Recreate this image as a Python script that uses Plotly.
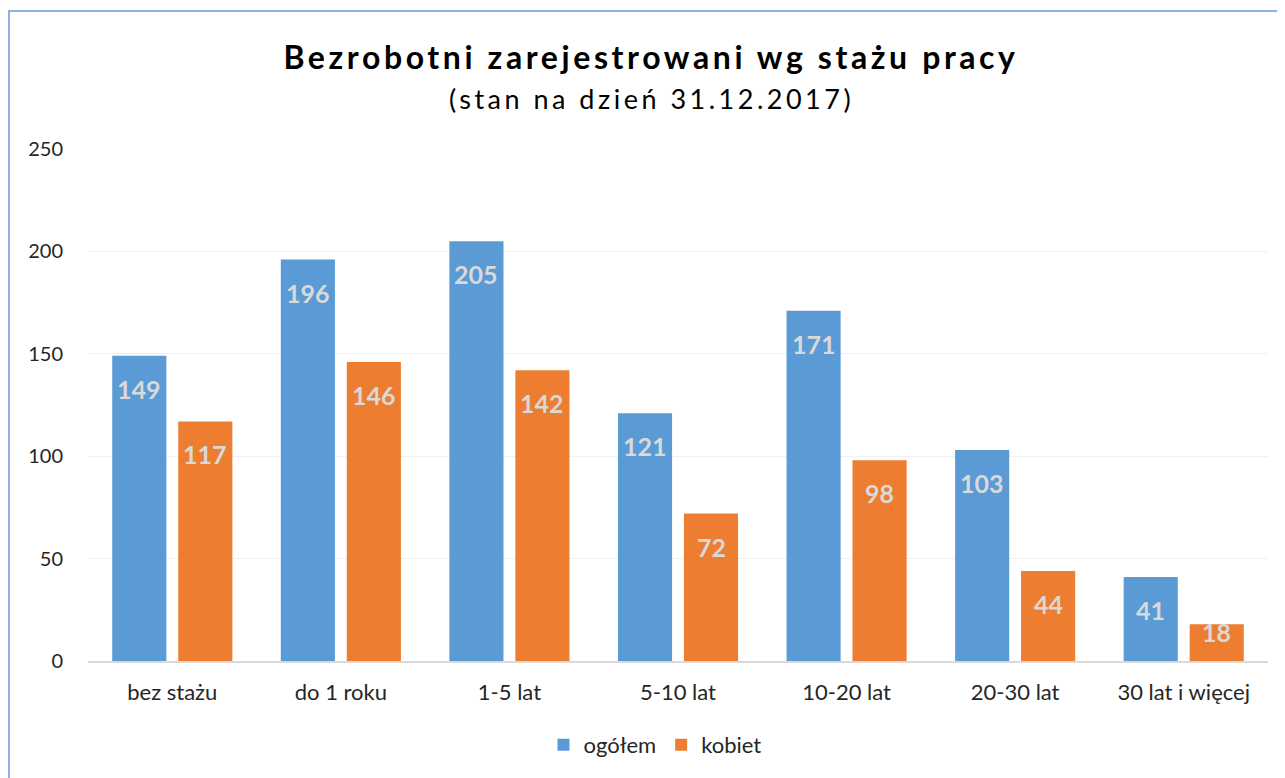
import plotly.graph_objects as go

categories = ["bez stażu", "do 1 roku", "1-5 lat", "5-10 lat", "10-20 lat", "20-30 lat", "30 lat i więcej"]
ogolem = [149, 196, 205, 121, 171, 103, 41]
kobiet = [117, 146, 142, 72, 98, 44, 18]
y_ticks = [0, 50, 100, 150, 200, 250]

FONT = "Lato"
BLUE = "#5b9bd5"
ORANGE = "#ed7d31"
PX_PER_UNIT = 512 / 250
OFF = 8  # page body margin
W, H = 1285 - OFF, 778 - OFF
L, T, PW, PH = 88 - OFF, 149 - OFF, 1180, 512

fig = go.Figure()
fig.add_trace(go.Bar(x=categories, y=ogolem, name="ogółem", marker=dict(color=BLUE, line=dict(width=0))))
fig.add_trace(go.Bar(x=categories, y=kobiet, name="kobiet", marker=dict(color=ORANGE, line=dict(width=0))))

annotations = []
for series, shift in ((ogolem, -33), (kobiet, 33)):
    for c, v in zip(categories, series):
        dy = min(33, v * PX_PER_UNIT - 29)
        annotations.append(dict(x=c, y=v, xref="x", yref="y", text=f"<b>{v}</b>", showarrow=False,
                                xshift=shift, yshift=-dy, yanchor="middle",
                                font=dict(family=FONT, size=25, color="#d9d9d9")))

annotations.append(dict(text='<span style="letter-spacing:3.5px">(stan na dzień 31.12.2017)</span>',
                        xref="paper", yref="paper",
                        x=(651 - OFF - L) / PW, y=(T + PH - (98 - OFF)) / PH, xanchor="center", yanchor="middle",
                        showarrow=False, font=dict(family=FONT, size=27, color="#000000")))

fig.update_layout(
    width=W, height=H,
    margin=dict(l=L, r=W - L - PW, t=T, b=H - T - PH),
    paper_bgcolor="white", plot_bgcolor="white",
    barmode="group", bargap=0.217, bargroupgap=0.18,
    title=dict(text='<span style="letter-spacing:3.6px"><b>Bezrobotni zarejestrowani wg stażu pracy</b></span>',
               x=(651 - OFF) / W, xanchor="center",
               y=1 - (58 - OFF) / H, yanchor="middle", font=dict(family=FONT, size=32, color="#000000")),
    font=dict(family=FONT, size=18, color="#262626"),
    xaxis=dict(showline=True, linecolor="#d9d9d9", linewidth=2, ticks="", ticklabelstandoff=11,
               tickfont=dict(size=22, color="#262626")),
    yaxis=dict(range=[0, 250], tickvals=y_ticks, showgrid=True, gridcolor="#f0f0f0", gridwidth=1,
               zeroline=False, ticks="", ticklabelstandoff=24, tickfont=dict(size=20, color="#262626")),
    legend=dict(orientation="h", xref="container", yref="container", x=(655 - OFF) / W, y=(778 - 745) / H,
                xanchor="center", yanchor="middle", font=dict(size=22, color="#262626"),
                itemwidth=30, tracegroupgap=0),
    annotations=annotations,
    shapes=[dict(type="rect", xref="paper", yref="paper",
                 x0=(9 - OFF - L) / PW, x1=(1300 - L) / PW,
                 y0=(T + PH - 800) / PH, y1=(T + PH - (11 - OFF)) / PH,
                 line=dict(color="#8db3e2", width=2), fillcolor="rgba(0,0,0,0)", layer="above")],
)

fig.write_html("out.html")
